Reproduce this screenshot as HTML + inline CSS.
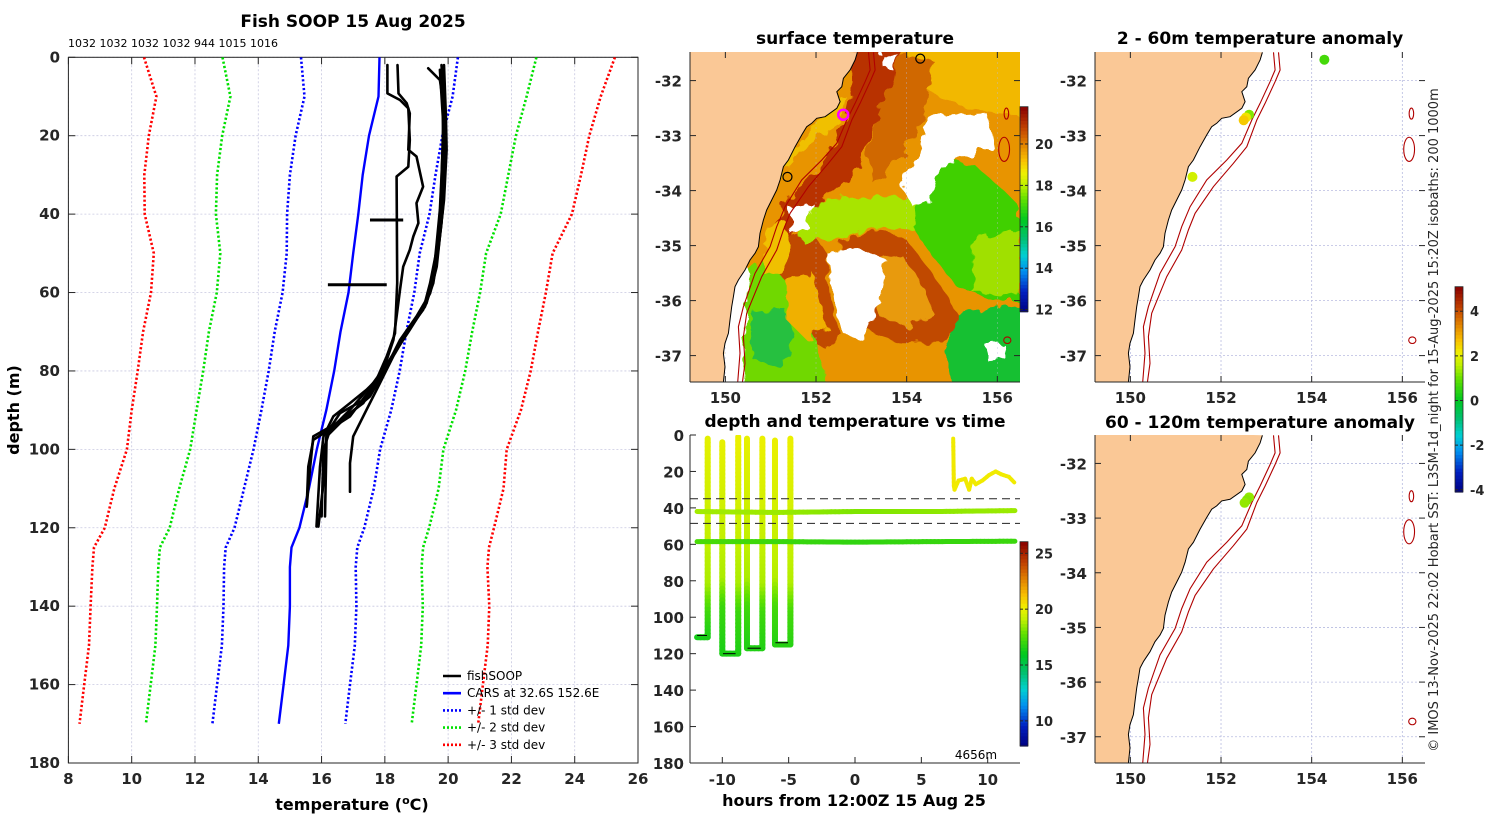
<!DOCTYPE html>
<html><head><meta charset="utf-8"><style>
html,body{margin:0;padding:0;background:#fff;}
svg{display:block;font-family:"DejaVu Sans","Liberation Sans",sans-serif;}
.tk{font-size:15px;font-weight:bold;fill:#262626;}
.ttl{font-size:17px;font-weight:bold;fill:#000;}
</style></head><body>
<svg id="s" width="1500" height="820" viewBox="0 0 1500 820" xmlns="http://www.w3.org/2000/svg">
<defs>
<clipPath id="cpL"><rect x="68.4" y="57.3" width="569.6" height="706"/></clipPath>
<clipPath id="cpM1"><rect x="690" y="52" width="330" height="330"/></clipPath>
<clipPath id="cpR1"><rect x="1095" y="52" width="330" height="330"/></clipPath>
<clipPath id="cpR2"><rect x="1095" y="435" width="330" height="328"/></clipPath>
<clipPath id="cpTS"><rect x="690" y="435" width="330" height="328"/></clipPath>
<filter id="soft"><feTurbulence type="fractalNoise" baseFrequency="0.08" numOctaves="2" seed="3" result="n"/><feDisplacementMap in="SourceGraphic" in2="n" scale="14"/></filter>
</defs>
<g id="root"></g>
</svg>
<script>
// ---------- left panel data ----------
const xTicksT=[8,10,12,14,16,18,20,22,24,26];
const yTicksD=[0,20,40,60,80,100,120,140,160,180];
const depthsCARS=[0,10,20,30,40,50,60,70,80,90,100,110,115,120,125,130,140,150,160,170];
const meanCARS=[17.83,17.8,17.5,17.3,17.16,17.0,16.85,16.6,16.4,16.15,15.85,15.6,15.45,15.3,15.05,15.0,15.0,14.95,14.8,14.65];
const stdCARS=[2.48,2.34,2.32,2.3,2.25,2.1,2.08,2.08,2.07,2.05,2.0,2.05,2.05,2.05,2.08,2.08,2.1,2.1,2.1,2.1];
const castDepths=[
 [2,9.2,10.9,13,21.1,27.9,30.4,57.6,70.4,76.3,83.1,91.6,97.6,104.4,114.6],
 [2,9.2,11.7,14.3,23.6,25.3,33.0,37.2,42.3,45.7,49.1,53.4,59.3,66.1,72.1,77.2,84.0,87.4,90.8,95.9,108.6,119.7],
 [2.4,15.1,32.1,40.6,49.1,57.6,64.4,71.2,78.0,84.8,89.9,96.7,103.5,110.8],
 [2.8,5.8,10.9,19.4,30.4,38.9,47.4,55.9,62.7,69.5,74.6,81.4,84.8,88.2,91.6,96.7,104.4,119.7],
 [2,10.9,23.6,33.8,42.3,49.1,57.6,63.6,70.4,75.5,83.1,89.9,95.0,100.1,117.1],
 [2,15.1,23.6,36.4,45.7,53.4,60.2,66.1,72.1,78.9,86.5,91.6,96.7,117.1],
 [3.2,15.1,30.4,38.9,46.6,54.2,61.0,65.3,72.9,79.7,88.2,93.3,96.7,104.4,114.6]];
const castTemps=[
 [18.08,18.08,18.48,18.74,18.79,18.74,18.37,18.39,18.32,18.06,17.69,16.9,15.74,15.58,15.53],
 [18.4,18.43,18.69,18.79,18.74,19.0,19.21,19.0,19.06,18.9,18.79,18.58,18.48,18.37,18.27,18.06,17.74,17.32,16.58,16.16,16.06,15.9],
 [19.85,19.85,19.79,19.74,19.64,19.43,19.21,18.58,18.16,17.74,17.42,17.0,16.9,16.9],
 [19.37,19.74,19.83,19.85,19.79,19.74,19.64,19.53,19.32,18.79,18.37,17.85,17.42,16.9,16.37,16.06,15.95,15.84],
 [19.79,19.87,19.9,19.85,19.79,19.69,19.53,19.27,18.69,18.32,17.63,16.9,16.27,16.06,16.0],
 [19.87,19.93,19.95,19.87,19.74,19.64,19.43,19.0,18.48,18.06,17.53,16.79,16.16,16.11],
 [19.74,19.83,19.87,19.83,19.72,19.58,19.37,19.11,18.48,17.95,17.32,16.48,15.74,15.64,15.53]];
const spikeDepths=[41.5,58];
const spikeT0=[17.53,16.2];
const spikeT1=[18.58,18.06];
const castMaxLabels=["1032","1032","1032","1032","944","1015","1016"];

// ---------- depth vs time data ----------
const tsXTicks=[-10,-5,0,5,10];
const tsYTicks=[0,20,40,60,80,100,120,140,160,180];
const tsTimes=[
 [-11.9,-11.1,-11.1,-11.1,-11.1],
 [-10,-10,-10,-10,-8.8,-8.8,-8.8,-8.8],
 [-8.14,-8.14,-8.14,-8.14,-6.98,-6.98,-6.98,-6.98],
 [-6.03,-6.03,-6.03,-6.03,-4.87,-4.87,-4.87,-4.87],
 [-11.9,-6,0,6,12.05],
 [-11.9,-6,0,6,12.05],
 [7.4,7.45,7.5,7.8,8.3,8.6,8.8,9.1,9.6,10.1,10.6,11.0,11.6,12.0]];
const tsDepths=[
 [111,111,95,80,2],
 [4,80,95,120,120,95,80,1],
 [2,80,95,117,117,95,80,2],
 [3,80,95,115,115,95,80,2],
 [42,42.5,42,42,41.5],
 [58.5,58.5,58.8,58.5,58.3],
 [2,28,30,25,24,30,24,27,25,22,20,21.5,23,26]];
const tsTemps=[
 [16.4,16.4,17.2,18.8,19.9],
 [20.0,18.8,17.1,16.5,16.5,17.1,18.8,20.1],
 [20.0,18.8,17.2,16.6,16.6,17.2,18.8,20.1],
 [20.1,18.9,17.3,16.7,16.7,17.3,18.9,20.1],
 [18.7,18.6,18.2,18.4,18.6],
 [17.4,17.1,16.9,17.0,17.1],
 [20.3,20.4,20.3,20.3,20.4,20.3,20.4,20.3,20.3,20.3,20.3,20.3,20.3,20.3]];
const bottomMarkT0=[-11.9,-9.95,-8.1,-6.0];
const bottomMarkT1=[-11.15,-9.0,-7.1,-5.05];
const bottomMarkD=[110,120,117,114];
const dashedDepths=[35,48.5];

// ---------- map data ----------
const lonTicks=[150,152,154,156];
const latTicks=[-32,-33,-34,-35,-36,-37];
const anomLon=[154.28,152.62,152.55,152.5,151.37];
const anomLat=[-31.62,-32.62,-32.67,-32.72,-33.75];
const anomVal=[0.7,1.2,2.3,2.6,1.8];
const anom2Lon=[152.62,152.57,152.52];
const anom2Lat=[-32.62,-32.67,-32.72];
const anom2Val=[1.3,1.2,1.3];
const sstTicks=[12,14,16,18,20];
const tsCbTicks=[10,15,20,25];
const anomTicks=[4,2,0,-2,-4];

// ---------- helpers ----------
const NS="http://www.w3.org/2000/svg";
const root=document.getElementById('root');
function mk(tag,attrs,parent){const e=document.createElementNS(NS,tag);for(const k in attrs)e.setAttribute(k,attrs[k]);(parent||root).appendChild(e);return e;}
function txt(x,y,s,cls,anchor,parent){const t=mk('text',{x:x,y:y,'class':cls||'tk','text-anchor':anchor||'middle'},parent);t.textContent=s;return t;}
const stops=[[0,[0,0,128]],[0.1,[0,32,192]],[0.2,[0,144,240]],[0.28,[0,208,208]],[0.36,[0,192,112]],[0.45,[0,200,32]],[0.55,[96,224,0]],[0.62,[192,240,0]],[0.68,[240,240,0]],[0.74,[248,192,0]],[0.82,[224,128,0]],[0.9,[192,64,0]],[1,[136,0,0]]];
function cmap(f){f=Math.max(0,Math.min(1,f));for(let i=1;i<stops.length;i++){if(f<=stops[i][0]){const a=stops[i-1],b=stops[i];const u=(f-a[0])/(b[0]-a[0]);const c=a[1].map((v,j)=>Math.round(v+(b[1][j]-v)*u));return 'rgb('+c.join(',')+')';}}return 'rgb(136,0,0)';}

// ================= LEFT PANEL =================
const L={x0:68.4,x1:638,y0:57.3,y1:763};
const xT=t=>L.x0+(t-8)*(L.x1-L.x0)/18;
const yD=d=>L.y0+d*(L.y1-L.y0)/180;
const gL=mk('g',{});

xTicksT.forEach(t=>{
  const l=mk('line',{x1:xT(t),x2:xT(t),y1:L.y0,y2:L.y1,stroke:'#c8c8e0','stroke-width':0.8,'stroke-dasharray':'2,2'},gL);
  
  mk('line',{x1:xT(t),x2:xT(t),y1:L.y0,y2:L.y0+7,stroke:'#262626'},gL);
  mk('line',{x1:xT(t),x2:xT(t),y1:L.y1,y2:L.y1-7,stroke:'#262626'},gL);
  const tl=txt(xT(t),784,String(t),'tk','middle',gL);
  
});
yTicksD.forEach(d=>{
  const l=mk('line',{x1:L.x0,x2:L.x1,y1:yD(d),y2:yD(d),stroke:'#c8c8e0','stroke-width':0.8,'stroke-dasharray':'2,2'},gL);
  
  mk('line',{x1:L.x0,x2:L.x0+7,y1:yD(d),y2:yD(d),stroke:'#262626'},gL);
  mk('line',{x1:L.x1,x2:L.x1-7,y1:yD(d),y2:yD(d),stroke:'#262626'},gL);
  const tl=txt(60,yD(d)+5,String(d),'tk','end',gL);
  
});
const box=mk('rect',{x:L.x0,y:L.y0,width:L.x1-L.x0,height:L.y1-L.y0,fill:'none',stroke:'#262626','stroke-width':1},gL);

const gLc=mk('g',{'clip-path':'url(#cpL)'},gL);
const stdColors=['#0000ff','#00e000','#ff0000'];
[1,2,3].forEach(k=>{
  [-1,1].forEach(sg=>{
    const pts=depthsCARS.map((d,i)=>xT(meanCARS[i]+sg*k*stdCARS[i]).toFixed(1)+','+yD(d).toFixed(1)).join(' ');
    const p=mk('polyline',{points:pts,fill:'none',stroke:stdColors[k-1],'stroke-width':2.6,'stroke-dasharray':'2.2,2.2'},gLc);
    
  });
});
{
  const pts=depthsCARS.map((d,i)=>xT(meanCARS[i]).toFixed(1)+','+yD(d).toFixed(1)).join(' ');
  const p=mk('polyline',{points:pts,fill:'none',stroke:'#0000ff','stroke-width':2.4},gLc);
  
}
castDepths.forEach((ds,c)=>{
  const pts=ds.map((d,i)=>xT(castTemps[c][i]).toFixed(1)+','+yD(d).toFixed(1)).join(' ');
  const p=mk('polyline',{points:pts,fill:'none',stroke:'#000','stroke-width':2.6,'stroke-linejoin':'round','stroke-linecap':'round'},gLc);
  
});
spikeDepths.forEach((d,i)=>{
  const p=mk('line',{x1:xT(spikeT0[i]),x2:xT(spikeT1[i]),y1:yD(d),y2:yD(d),stroke:'#000','stroke-width':3},gLc);
  
});
{
  const t=txt(68,47,castMaxLabels.join(' '),'tk','start',gL);t.setAttribute('style','font-size:11px;font-weight:normal;fill:#000');
  
  const tt=txt(353,27,'Fish SOOP 15 Aug 2025','ttl','middle',gL);
  
  const xa=mk('text',{x:352,y:810,'class':'ttl','text-anchor':'middle'},gL);
  xa.setAttribute('style','font-size:16px');
  xa.innerHTML='temperature (<tspan dy="-6" style="font-size:11px">o</tspan><tspan dy="6">C)</tspan>';
  
  const ya=mk('text',{x:0,y:0,'class':'ttl','text-anchor':'middle',transform:'translate(19,410) rotate(-90)'},gL);
  ya.setAttribute('style','font-size:16px');ya.textContent='depth (m)';
  
}
// legend
{
  const lg=mk('g',{},gL);
  const items=[['fishSOOP','#000',''],['CARS at 32.6S 152.6E','#0000ff',''],['+/- 1 std dev','#0000ff','2,2'],['+/- 2 std dev','#00e000','2,2'],['+/- 3 std dev','#ff0000','2,2']];
  items.forEach((it,i)=>{
    const y=676+i*17.2;
    const e=mk('g',{},lg);
    const a={x1:443,x2:461,y1:y,y2:y,stroke:it[1],'stroke-width':2.6};if(it[2])a['stroke-dasharray']=it[2];
    mk('line',a,e);
    const t=txt(467,y+4,it[0],'tk','start',e);t.setAttribute('style','font-size:12px;font-weight:normal;fill:#000');
  });
}

// ================= MAPS =================
function mapProj(r){return {x:lon=>r.x+(lon-149.22)*r.w/7.28, y:lat=>r.y+(-31.48-lat)*r.h/6};}
function tr(X,Y){return [149.22+(X/3-35)/45.3, -31.48-(Y/3-32)/55];}
const coastTrace=[[607,97],[600,120],[585,150],[565,175],[560,200],[545,215],[555,245],[545,265],[510,290],[485,295],[470,310],[455,320],[440,345],[420,380],[400,420],[385,440],[375,480],[365,510],[350,540],[335,570],[325,600],[315,640],[310,680],[300,700],[285,720],[270,750],[250,780],[240,800],[235,830],[230,860],[225,900],[220,940],[210,970],[205,1000],[210,1040],[205,1087]];
const iso200=[[640,97],[645,150],[630,185],[600,250],[575,300],[545,370],[500,420],[440,480],[390,560],[365,620],[345,680],[300,760],[265,860],[250,920],[255,1000],[248,1087]];
const iso1000=[[655,97],[660,150],[645,185],[615,250],[590,300],[560,380],[520,430],[460,500],[405,580],[385,630],[365,690],[320,770],[275,880],[265,950],[270,1030],[262,1087]];
const coastLL=coastTrace.map(p=>tr(p[0],p[1]));
const iso200LL=iso200.map(p=>tr(p[0],p[1]));
const iso1000LL=iso1000.map(p=>tr(p[0],p[1]));
function drawMapBase(r,clipId,name,withGrid){
  const P=mapProj(r);
  const g=mk('g',{});
  const gc=mk('g',{'clip-path':'url(#'+clipId+')'},g);
  if(withGrid){
    lonTicks.forEach(lo=>{const l=mk('line',{x1:P.x(lo),x2:P.x(lo),y1:r.y,y2:r.y+r.h,stroke:'#b8bce0','stroke-width':0.8,'stroke-dasharray':'2,2'},gc);});
    latTicks.forEach(la=>{const l=mk('line',{x1:r.x,x2:r.x+r.w,y1:P.y(la),y2:P.y(la),stroke:'#b8bce0','stroke-width':0.8,'stroke-dasharray':'2,2'},gc);});
  }
  return {g,gc,P};
}
function drawLand(M,r){
  const P=M.P;
  const pts=coastLL.map(p=>P.x(p[0]).toFixed(1)+','+P.y(p[1]).toFixed(1));
  pts.push(r.x+','+(r.y+r.h+5));pts.push(r.x+','+(r.y-5));
  const land=mk('polygon',{points:pts.join(' '),fill:'#fac896',stroke:'none'},M.gc);
  
  const c=mk('polyline',{points:coastLL.map(p=>P.x(p[0]).toFixed(1)+','+P.y(p[1]).toFixed(1)).join(' '),fill:'none',stroke:'#000','stroke-width':1},M.gc);
  
  [iso200LL,iso1000LL].forEach((a,i)=>{
    const l=mk('polyline',{points:a.map(p=>P.x(p[0]).toFixed(1)+','+P.y(p[1]).toFixed(1)).join(' '),fill:'none',stroke:'#b00000','stroke-width':1.1},M.gc);
    
  });
  [[156.2,-32.6,0.05,0.1],[156.15,-33.25,0.12,0.22],[156.22,-36.72,0.08,0.06]].forEach(s=>{
    const e=mk('ellipse',{cx:P.x(s[0]),cy:P.y(s[1]),rx:s[2]*45,ry:s[3]*55,fill:'none',stroke:'#b00000','stroke-width':1.1},M.gc);
    
  });
}
function drawMapAxes(M,r){
  const P=M.P,g=M.g;
  mk('line',{x1:r.x,x2:r.x+r.w,y1:r.y+r.h,y2:r.y+r.h,stroke:'#262626'},g);
  mk('line',{x1:r.x,x2:r.x,y1:r.y,y2:r.y+r.h,stroke:'#262626'},g);
  lonTicks.forEach(lo=>{
    mk('line',{x1:P.x(lo),x2:P.x(lo),y1:r.y+r.h,y2:r.y+r.h-6,stroke:'#262626'},g);
    mk('line',{x1:P.x(lo),x2:P.x(lo),y1:r.y,y2:r.y+6,stroke:'#262626'},g);
    const t=txt(P.x(lo),r.y+r.h+21,String(lo),'tk','middle',g);
  });
  latTicks.forEach(la=>{
    mk('line',{x1:r.x,x2:r.x+6,y1:P.y(la),y2:P.y(la),stroke:'#262626'},g);
    mk('line',{x1:r.x+r.w,x2:r.x+r.w-6,y1:P.y(la),y2:P.y(la),stroke:'#262626'},g);
    const t=txt(r.x-8,P.y(la)+6,String(la),'tk','end',g);
  });
}
function colorbar(x,yTop,yBot,vmin,vmax,ticks,name){
  const g=mk('g',{});
  const n=60,h=(yBot-yTop)/n;
  for(let i=0;i<n;i++){mk('rect',{x:x,y:(yBot-(i+1)*h).toFixed(2),width:8,height:(h+0.6).toFixed(2),fill:cmap((i+0.5)/n)},g);}
  mk('rect',{x:x,y:yTop,width:8,height:yBot-yTop,fill:'none',stroke:'#262626','stroke-width':0.8},g);
  ticks.forEach(v=>{const y=yBot-(v-vmin)/(vmax-vmin)*(yBot-yTop);
    mk('line',{x1:x,x2:x+3,y1:y,y2:y,stroke:'#262626'},g);mk('line',{x1:x+8,x2:x+5,y1:y,y2:y,stroke:'#262626'},g);
    const t=txt(x+15,y+5,String(v),'tk','start',g);t.setAttribute('style','font-size:13px');});
}

// ---- surface temperature map ----
const R1={x:690,y:52,w:330,h:330};
{
  const M=drawMapBase(R1,'cpM1','sst-map',false);
  const sg=mk('g',{filter:'url(#soft)'},M.gc);
  
  const Z=(X,Y)=>(640+X/3).toFixed(1)+','+(40+Y/3).toFixed(1);
  const blobs=[
   ['#e89400',[[120,0],[1200,0],[1200,1080],[120,1080]]],
   ['#f2b800',[[800,20],[1160,20],[1160,230],[1000,210],[900,170],[800,120]]],
   ['#d06800',[[760,40],[880,60],[860,200],[820,300],[760,380],[700,430],[680,320],[720,200]]],
   ['#b83000',[[640,20],[780,20],[760,120],[720,210],[680,300],[660,380],[610,430],[560,470],[520,520],[480,560],[450,610],[430,660],[410,700],[385,650],[400,560],[440,480],[520,400],[575,320],[615,240],[635,150]]],
   ['#c04a00',[[430,600],[520,575],[560,640],[565,760],[600,880],[560,930],[480,880],[420,800],[400,700]]],
   ['#c04a00',[[600,600],[720,570],[800,600],[860,680],[930,780],[965,850],[900,905],[780,905],[700,880],[640,840],[620,720]]],
   ['#e89a10',[[680,660],[780,640],[840,720],[880,820],[800,860],[720,830],[690,740]]],
   ['#a8e400',[[470,520],[560,480],[700,470],[840,470],[860,580],[720,565],[570,600],[480,600]]],
   ['#40d000',[[830,380],[920,355],[1010,380],[1100,460],[1140,500],[1140,780],[1050,780],[950,740],[880,650],[820,560],[840,460]]],
   ['#a0e000',[[1000,600],[1140,560],[1140,760],[1000,760]]],
   ['#18c030',[[950,820],[1160,790],[1160,1060],[940,1060],[915,930]]],
   ['#70d800',[[260,700],[380,660],[470,760],[520,880],[570,1060],[260,1060]]],
   ['#28c040',[[330,820],[430,800],[470,900],[420,980],[340,960]]],
   ['#f0c000',[[380,560],[435,540],[455,620],[425,700],[370,700]]],
   ['#f0c000',[[560,200],[620,170],[600,250],[520,300],[450,380],[420,420],[440,350],[500,280]]],
   ['#f0b000',[[440,720],[520,700],[560,860],[500,900],[440,840]]],
   ['#ffffff',[[860,230],[1040,220],[1060,320],[1000,340],[900,380],[870,480],[820,500],[780,440],[840,340]]],
   ['#ffffff',[[560,640],[640,620],[740,660],[720,760],[680,900],[610,880],[580,780],[570,700]]],
   ['#ffffff',[[250,700],[300,650],[330,700],[300,1060],[245,1060]]],
   ['#ffffff',[[445,500],[520,490],[505,560],[455,585]]],
   ['#ffffff',[[1040,920],[1090,910],[1100,960],[1045,965]]],
   ['#ffffff',[[720,40],[770,40],[760,90],[730,80]]]
  ];
  blobs.forEach(b=>{mk('polygon',{points:b[1].map(q=>Z(q[0],q[1])).join(' '),fill:b[0]},sg);});
  lonTicks.forEach(lo=>{mk('line',{x1:M.P.x(lo),x2:M.P.x(lo),y1:R1.y,y2:R1.y+R1.h,stroke:'#b8bce0','stroke-width':0.6,'stroke-dasharray':'2,3','opacity':0.6},M.gc);});
  drawLand(M,R1);
  [[154.3,-31.6,'#000'],[151.37,-33.75,'#000'],[152.6,-32.62,'#ff00ff']].forEach((c,i)=>{
    const e=mk('circle',{cx:M.P.x(c[0]),cy:M.P.y(c[1]),r:i==2?5:4.5,fill:'none',stroke:c[2],'stroke-width':i==2?2.5:1.2},M.g);
    
  });
  drawMapAxes(M,R1);
  const t=txt(855,44,'surface temperature','ttl','middle');
  colorbar(1020,106.7,311.7,11.9,21.8,sstTicks,'sst-colorbar');
}

// ---- anomaly maps ----
const R2={x:1095,y:52,w:330,h:330};
const R3={x:1095,y:435,w:330,h:328};
function anomMap(r,clip,name,lons,lats,vals){
  const M=drawMapBase(r,clip,name,true);
  drawLand(M,r);
  lons.forEach((lo,i)=>{
    const c=mk('circle',{cx:M.P.x(lo),cy:M.P.y(lats[i]),r:5,fill:cmap((vals[i]+4.1)/9.2)},M.gc);
    
  });
  drawMapAxes(M,r);
}
anomMap(R2,'cpR1','anomaly-map-2-60m',anomLon,anomLat,anomVal);
anomMap(R3,'cpR2','anomaly-map-60-120m',anom2Lon,anom2Lat,anom2Val);
{
  let t=txt(1260,44,'2 - 60m temperature anomaly','ttl','middle');
  t=txt(1260,428,'60 - 120m temperature anomaly','ttl','middle');
  colorbar(1455,286.7,492,-4.1,5.1,anomTicks,'anomaly-colorbar');
  const v=mk('text',{x:0,y:0,'text-anchor':'middle',transform:'translate(1438,420) rotate(-90)'});
  v.setAttribute('style','font-size:13px;fill:#262626');
  v.textContent='\u00a9 IMOS 13-Nov-2025 22:02 Hobart SST: L3SM-1d_night for 15-Aug-2025 15:20Z isobaths: 200  1000m';
  
}

// ================= DEPTH vs TIME =================
{
  const T={x0:690,x1:1020,y0:435,y1:763};
  const xH=h=>855+h*13.27;
  const yM=d=>T.y0+d*(T.y1-T.y0)/180;
  const g=mk('g',{});
  const gc=mk('g',{'clip-path':'url(#cpTS)'},g);
  const vmin=7.75,vmax=26.04;
  tsTimes.forEach((ts,s)=>{
    const sg=mk('g',{},gc);
    for(let i=0;i<ts.length-1;i++){
      const xa=xH(ts[i]),ya=yM(tsDepths[s][i]),xb=xH(ts[i+1]),yb=yM(tsDepths[s][i+1]);
      const len=Math.hypot(xb-xa,yb-ya),n=Math.max(1,Math.ceil(len/4));
      for(let k=0;k<n;k++){
        const u0=k/n,u1=(k+1)/n,um=(k+0.5)/n;
        const tv=tsTemps[s][i]+(tsTemps[s][i+1]-tsTemps[s][i])*um;
        mk('line',{x1:xa+(xb-xa)*u0,y1:ya+(yb-ya)*u0,x2:xa+(xb-xa)*u1,y2:ya+(yb-ya)*u1,stroke:cmap((tv-vmin)/(vmax-vmin)),'stroke-width':s>=4?(s==6?4:5):6,'stroke-linecap':'round'},sg);
      }
    }
  });
  bottomMarkD.forEach((d,i)=>{mk('line',{x1:xH(bottomMarkT0[i]),x2:xH(bottomMarkT1[i]),y1:yM(d),y2:yM(d),stroke:'#000','stroke-width':1},gc);});
  dashedDepths.forEach(d=>{const l=mk('line',{x1:T.x0,x2:T.x1,y1:yM(d),y2:yM(d),stroke:'#222','stroke-width':1,'stroke-dasharray':'8,5'},gc);});
  mk('line',{x1:T.x0,x2:T.x1,y1:T.y1,y2:T.y1,stroke:'#262626'},g);
  mk('line',{x1:T.x0,x2:T.x0,y1:T.y0,y2:T.y1,stroke:'#262626'},g);
  tsXTicks.forEach(h=>{mk('line',{x1:xH(h),x2:xH(h),y1:T.y1,y2:T.y1-6,stroke:'#262626'},g);
    const t=txt(xH(h),785,String(h),'tk','middle',g);});
  tsYTicks.forEach(d=>{mk('line',{x1:T.x0,x2:T.x0+6,y1:yM(d),y2:yM(d),stroke:'#262626'},g);
    const t=txt(684,yM(d)+6,String(d),'tk','end',g);});
  let t=txt(855,427,'depth and temperature vs time','ttl','middle',g);
  t=txt(854,806,'hours from 12:00Z 15 Aug 25','ttl','middle',g);t.setAttribute('style','font-size:16px');
  t=txt(976,759,'4656m','tk','middle',g);t.setAttribute('style','font-size:12px;font-weight:normal;fill:#000');
  colorbar(1020,541.7,746,vmin,vmax,tsCbTicks,'depth-time-colorbar');
}
</script>
</body></html>
